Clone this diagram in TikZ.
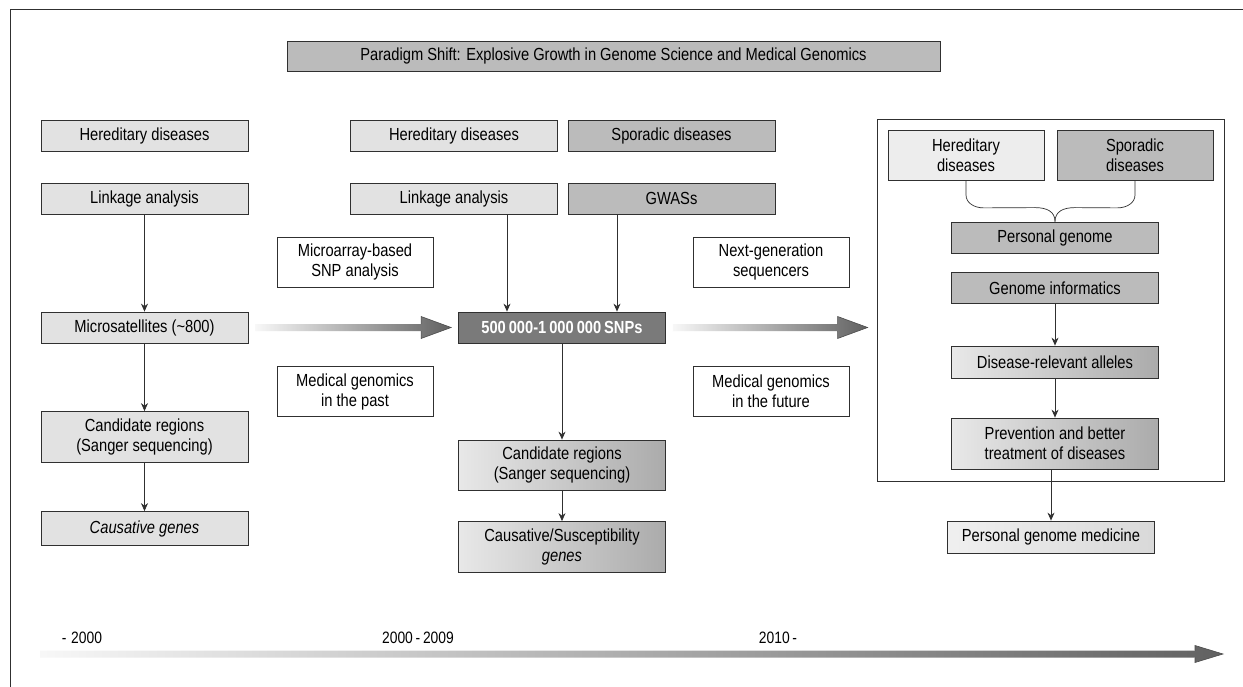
\documentclass[tikz,border=0pt]{standalone}
\usepackage{fontspec}
\setmainfont{Liberation Sans}[FakeStretch=0.84]
\usetikzlibrary{arrows.meta,calc}
\definecolor{lightf}{HTML}{E2E2E2}
\definecolor{darkf}{HTML}{BBBBBB}
\definecolor{snpf}{HTML}{7A7A7A}
\definecolor{gradl}{HTML}{E8E8E8}
\definecolor{gradr}{HTML}{ABABAB}
\definecolor{linec}{HTML}{303030}
\begin{document}
\begin{tikzpicture}[x=1pt,y=-1pt,
  every node/.style={font=\fontsize{17.5}{20}\selectfont},
  box/.style={draw=linec,line width=0.8pt,align=center,inner sep=0pt,minimum width=207pt,minimum height=31pt},
  sbox/.style={box,minimum width=156pt,minimum height=50pt},
  tallbox/.style={box,minimum height=50pt},
  lightbox/.style={fill=lightf},
  darkbox/.style={fill=darkf},
  gradbox/.style={left color=gradl,right color=gradr},
  whitebox/.style={fill=white},
  arr/.style={draw=linec,line width=0.7pt,-{Stealth[length=8pt,width=7pt]}},
  bigshade/.style={left color=gray!6,right color=black!62},
  headline/.style={draw=black!70,line width=0.6pt},
  yearlbl/.style={anchor=base,font=\fontsize{16.5}{19}\selectfont}
]
\useasboundingbox (0,0) rectangle (1243,687);
\fill[white] (0,0) rectangle (1243,687);
% outer frame
\coordinate (fbl) at (10,687);
\coordinate (ftl) at (10,9);
\coordinate (ftr) at (1243,9);
\draw[linec,line width=0.8pt] (fbl) -- (ftl) -- (ftr);

% title
\node[box,darkbox,minimum width=653pt,minimum height=30pt] (title) at (613.5,56) {Paradigm Shift: Explosive Growth in Genome Science and Medical Genomics};

% left column
\node[box,lightbox] (lher) at (144.5,136) {Hereditary diseases};
\node[box,lightbox] (llink) at (144.5,198.5) {Linkage analysis};
\node[box,lightbox] (lmicro) at (144.5,327.5) {Microsatellites (\textasciitilde800)};
\node[tallbox,lightbox,minimum height=51pt] (lcand) at (144.5,437) {Candidate regions\\(Sanger sequencing)};
\node[box,lightbox,minimum height=34pt] (lcaus) at (144.5,528.5) {\itshape Causative genes};

% middle column
\node[box,lightbox] (mher) at (454,135.5) {Hereditary diseases};
\node[box,darkbox] (spor) at (671.5,135.5) {Sporadic diseases};
\node[box,lightbox] (mlink) at (454,198.5) {Linkage analysis};
\node[box,darkbox] (gwas) at (671.5,198.5) {GWASs};
\node[sbox,whitebox] (micarr) at (355,262) {Microarray-based\\SNP analysis};
\node[sbox,whitebox] (mpast) at (355,391.5) {Medical genomics\\in the past};
\node[box,fill=snpf,text=white,font=\bfseries\fontsize{17.5}{20}\selectfont] (snp) at (562,327.5) {500\,000-1\,000\,000\,SNPs};
\node[tallbox,gradbox] (mcand) at (562,465) {Candidate regions\\(Sanger sequencing)};
\node[tallbox,gradbox,minimum height=51pt] (mcaus) at (562,547) {Causative/Susceptibility\\\textit{genes}};
\node[sbox,whitebox] (ngs) at (771,262) {Next-generation\\sequencers};
\node[sbox,whitebox] (mfut) at (771,391.5) {Medical genomics\\in the future};

% right frame
\node[draw=linec,line width=0.8pt,fill=white,minimum width=347pt,minimum height=362pt,inner sep=0pt] (rframe) at (1050.5,300) {};
\node[sbox,fill=gray!14] (rher) at (966,155.5) {Hereditary\\diseases};
\node[sbox,darkbox] (rspor) at (1135,155.5) {Sporadic\\diseases};
\node[box,darkbox] (pgen) at (1055,237.5) {Personal genome};
\node[box,darkbox] (ginf) at (1055,288) {Genome informatics};
\node[box,gradbox,minimum height=32pt] (allele) at (1055,362) {Disease-relevant alleles};
\node[tallbox,gradbox,minimum height=51pt] (prev) at (1055,443.5) {Prevention and better\\treatment of diseases};
\node[box,left color=gray!12,right color=gray!30,minimum height=32pt] (pgm) at (1051,537) {Personal genome medicine};

% vertical arrows
\draw[arr] (llink) -- (lmicro);
\draw[arr] (lmicro) -- (lcand);
\draw[arr] (lcand) -- (lcaus);
\draw[arr] ([xshift=-55pt]snp.north |- mlink.south) -- ([xshift=-55pt]snp.north);
\draw[arr] ([xshift=55pt]snp.north |- gwas.south) -- ([xshift=55pt]snp.north);
\draw[arr] (snp) -- (mcand);
\draw[arr] (mcand) -- (mcaus);
\draw[arr] (ginf) -- (allele);
\draw[arr] (allele) -- (prev);
\draw[arr] (prev.south -| pgm.north) -- (pgm.north);

% brace
\draw[linec,line width=0.7pt] (rher.south) -- ++(0,14) .. controls ++(0,8) and ++(-10,0) .. ($(rher.south)+(18,27)$)
  -- ($(pgen.north)+(-20,-14)$) .. controls ++(12,0) and ++(0,-10) .. (pgen.north);
\draw[linec,line width=0.7pt] (rspor.south) -- ++(0,14) .. controls ++(0,8) and ++(10,0) .. ($(rspor.south)+(-18,27)$)
  -- ($(pgen.north)+(20,-14)$) .. controls ++(-12,0) and ++(0,-10) .. (pgen.north);

% big gradient arrows
\shade[bigshade] ($(lmicro.east)+(7,-3.5)$) -- ($(snp.west)+(-37,-3.5)$) -- ($(snp.west)+(-37,-11)$) -- ($(snp.west)+(-7,0)$) -- ($(snp.west)+(-37,11)$) -- ($(snp.west)+(-37,3.5)$) -- ($(lmicro.east)+(7,3.5)$) -- cycle;
\draw[headline] ($(snp.west)+(-37,-3.5)$) -- ($(snp.west)+(-37,-11)$) -- ($(snp.west)+(-7,0)$) -- ($(snp.west)+(-37,11)$) -- ($(snp.west)+(-37,3.5)$);
\shade[bigshade] ($(snp.east)+(7,-3.5)$) -- ($(rframe.west)+(-39,27.5-3.5)$) -- ($(rframe.west)+(-39,27.5-11)$) -- ($(rframe.west)+(-9,27.5)$) -- ($(rframe.west)+(-39,27.5+11)$) -- ($(rframe.west)+(-39,27.5+3.5)$) -- ($(snp.east)+(7,3.5)$) -- cycle;
\draw[headline] ($(rframe.west)+(-39,27.5-3.5)$) -- ($(rframe.west)+(-39,27.5-11)$) -- ($(rframe.west)+(-9,27.5)$) -- ($(rframe.west)+(-39,27.5+11)$) -- ($(rframe.west)+(-39,27.5+3.5)$);

% timeline
\coordinate (tl0) at (40,654);
\coordinate (tl1) at (1223,654);
\shade[bigshade] ($(tl0)+(0,-3.5)$) -- ($(tl1)+(-28,-3.5)$) -- ($(tl1)+(-28,-8.5)$) -- (tl1) -- ($(tl1)+(-28,8.5)$) -- ($(tl1)+(-28,3.5)$) -- ($(tl0)+(0,3.5)$) -- cycle;
\draw[headline] ($(tl1)+(-28,-3.5)$) -- ($(tl1)+(-28,-8.5)$) -- (tl1) -- ($(tl1)+(-28,8.5)$) -- ($(tl1)+(-28,3.5)$);
\node[yearlbl] (y1) at (82,643) {-\;2000};
\node[yearlbl] (y2) at (418,643) {2000\,-\,2009};
\node[yearlbl] (y3) at (778,643) {2010\,-};
\end{tikzpicture}
\end{document}
